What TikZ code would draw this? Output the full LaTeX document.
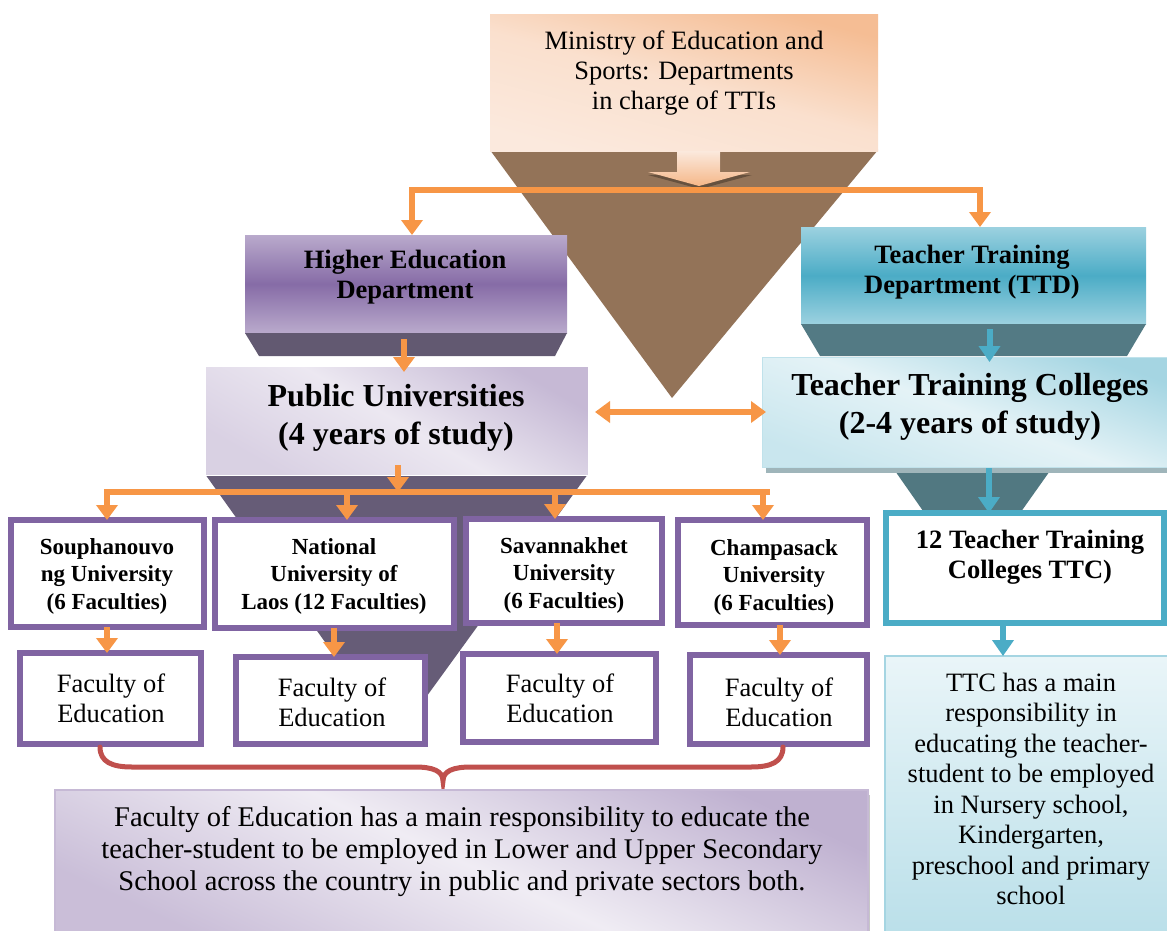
\documentclass[tikz,border=0pt]{standalone}
\usepackage{fontspec}
\setmainfont{Liberation Serif}
\usetikzlibrary{arrows.meta,calc}

\definecolor{orangeA}{HTML}{F79646}
\definecolor{peachT}{HTML}{F5BD94}
\definecolor{peachM}{HTML}{FAE0CE}
\definecolor{peachB}{HTML}{FBE9DD}
\definecolor{brownA}{HTML}{937358}
\definecolor{purpA}{HTML}{8064A2}
\definecolor{purpD}{HTML}{665C77}
\definecolor{purpBev}{HTML}{625971}
\definecolor{cyanA}{HTML}{4BACC6}
\definecolor{tealD}{HTML}{517881}
\definecolor{tealBev}{HTML}{537A84}
\definecolor{redA}{HTML}{C0504D}

\tikzset{
  txt/.style={font=\fontsize{26.5}{30}\selectfont, align=center, text=black, inner sep=0pt},
  btxt/.style={font=\fontsize{26.5}{30}\selectfont\bfseries, align=center, text=black, inner sep=0pt},
  bigtxt/.style={font=\fontsize{32}{38}\selectfont\bfseries, align=center, text=black, inner sep=0pt},
  unitxt/.style={font=\fontsize{23}{27.5}\selectfont\bfseries, align=center, text=black, inner sep=0pt},
  plainbox/.style={rectangle, inner sep=0pt, outer sep=0pt},
  ubox/.style={plainbox, draw=purpA, line width=6pt, fill=white},
  tbox/.style={plainbox, draw=cyanA, line width=6pt, fill=white},
  oline/.style={draw=orangeA, line width=6pt},
  oarrow/.style={draw=orangeA, line width=6pt, -{Triangle[width=21pt,length=15pt]}},
  odouble/.style={draw=orangeA, line width=6pt, {Triangle[width=21pt,length=15pt]}-{Triangle[width=21pt,length=15pt]}},
  barrow/.style={draw=cyanA, line width=6pt, -{Triangle[width=21pt,length=16pt]}},
}

\begin{document}
\begin{tikzpicture}[x=1pt,y=-1pt]
\useasboundingbox (0,0) rectangle (1167,931);
\fill[white] (0,0) rectangle (1167,931);

% funnels standing behind the boxes
\fill[brownA] (490,150) -- (878,150) -- (672,398) -- cycle;
\fill[purpD] (205,474) -- (588,474) -- (395,740) -- cycle;
\fill[tealD] (893,468) -- (1052,468) -- (972,581) -- cycle;

% ministry
\node[plainbox, minimum width=388pt, minimum height=137pt,
      top color=peachT, bottom color=peachB, middle color=peachM,
      shading angle=-15] (min) at (684,83.5) {};
\node[txt] (mint) at (684,73) {Ministry of Education and\\Sports: Departments\\in charge of TTIs};

% small block arrow under the ministry
\fill[brownA!70!black] (677,154) -- (720,154) -- (720,175) -- (752,175) -- (700,189) -- (648,175) -- (677,175) -- cycle;
\shade[top color=peachB, bottom color=peachT!85!orangeA]
  (677,151) -- (720,151) -- (720,172) -- (750,172) -- (699,186) -- (648,172) -- (677,172) -- cycle;

% departments
\node[plainbox, minimum width=322pt, minimum height=98pt,
      top color=purpA!55!white, bottom color=purpA!55!white, middle color=purpA!95!white] (hed) at (406,284) {};
\fill[purpBev] (hed.south west) -- (hed.south east) -- ++(-12,23) -- ($(hed.south west)+(14,23)$) -- cycle;
\node[btxt] (hedt) at (405,277) {Higher Education\\Department};

\node[plainbox, minimum width=345pt, minimum height=97pt,
      top color=cyanA!55!white, bottom color=cyanA!55!white, middle color=cyanA] (ttd) at (973.5,275.5) {};
\fill[tealBev] (ttd.south west) -- (ttd.south east) -- ++(-19,32) -- ($(ttd.south west)+(19,32)$) -- cycle;
\node[btxt] (ttdt) at (972,272) {Teacher Training\\Department (TTD)};

% connector from the ministry to the departments
\coordinate (mL) at (412,190);
\coordinate (mR) at (980,190);
\draw[oline] ([xshift=-3pt]mL) -- ([xshift=3pt]mR);
\draw[oarrow] (mL) -- (mL |- hed.north);
\draw[oarrow] (mR) -- (mR |- ttd.north);

% public universities and teacher training colleges
\node[plainbox, minimum width=383pt, minimum height=109pt, draw=white, line width=1pt,
      top color=purpA!45!white, bottom color=purpA!30!white, middle color=purpA!15!white,
      shading angle=-30] (pu) at (396.5,420.5) {};
\node[bigtxt] (put) at (396,418) {Public Universities\\(4 years of study)};

\fill[tealD!55!white] (766,466) rectangle (1167,473);
\node[plainbox, minimum width=410pt, minimum height=110pt, draw=cyanA!35!white, line width=1pt,
      top color=cyanA!50!white, bottom color=cyanA!30!white, middle color=cyanA!15!white,
      shading angle=-20] (ttc) at (967,412) {};
\node[bigtxt] (ttct) at (970,407) {Teacher Training Colleges\\(2-4 years of study)};

\draw[oarrow] ([xshift=-2pt,yshift=-6pt]hed.south) -- ([xshift=-2pt,yshift=-6pt]hed.south |- pu.north);
\draw[barrow] ([xshift=16pt,yshift=-5pt]ttd.south) -- ([xshift=16pt,yshift=-5pt]ttd.south |- ttc.north);
\draw[odouble] ([xshift=7pt]pu.east |- ttc.west) -- ([xshift=4pt]ttc.west);

% universities
\node[ubox, minimum width=193pt, minimum height=107pt] (u1) at (107.5,573.5) {};
\node[ubox, minimum width=239pt, minimum height=108pt] (u2) at (334.5,574) {};
\node[ubox, minimum width=196pt, minimum height=104pt] (u3) at (564,571) {};
\node[ubox, minimum width=189pt, minimum height=105pt] (u4) at (772.5,572.5) {};
\node[unitxt] (u1t) at (107,576) {Souphanouvo\\ng University\\(6 Faculties)};
\node[unitxt] (u2t) at (334,576) {National\\University of\\Laos (12 Faculties)};
\node[unitxt] (u3t) at (564,575) {Savannakhet\\University\\(6 Faculties)};
\node[unitxt] (u4t) at (774,577) {Champasack\\University\\(6 Faculties)};

% faculties of education
\node[ubox, minimum width=181pt, minimum height=91pt] (f1) at (110.5,698.5) {};
\node[ubox, minimum width=189pt, minimum height=87pt] (f2) at (330.5,700.5) {};
\node[ubox, minimum width=193pt, minimum height=88pt] (f3) at (559.5,698) {};
\node[ubox, minimum width=177pt, minimum height=89pt] (f4) at (778.5,699.5) {};
\node[txt] (f1t) at (111,698) {Faculty of\\Education};
\node[txt] (f2t) at (332,702) {Faculty of\\Education};
\node[txt] (f3t) at (560,698) {Faculty of\\Education};
\node[txt] (f4t) at (779,702) {Faculty of\\Education};

% branching from the public universities
\coordinate (busL) at (107,492);
\coordinate (busM) at (398,492);
\coordinate (busR) at (767,492);
\draw[oline] ([xshift=-3pt]busL) -- ([xshift=3pt]busR);
\draw[oarrow] ([yshift=10pt]pu.south -| busM) -- (busM);
\draw[oarrow] (busL) -- (busL |- u1.north);
\draw[oarrow] (347,492) -- (347,0 |- u2.north);
\draw[oarrow] (555,492) -- (555,0 |- u3.north);
\draw[oarrow] (763,492) -- (763,0 |- u4.north);

\draw[oarrow] (107,0 |- u1.south) -- (107,0 |- f1.north);
\draw[oarrow] (334,0 |- u2.south) -- (334,0 |- f2.north);
\draw[oarrow] (557,0 |- u3.south) -- (557,0 |- f3.north);
\draw[oarrow] (780,0 |- u4.south) -- (780,0 |- f4.north);

% brace gathering the faculties
\draw[redA, line width=5pt, line cap=round]
  (100,747) .. controls (100,762) and (112,767) .. (132,767) -- (415,767)
  .. controls (433,767) and (443,771) .. (443,781)
  .. controls (443,771) and (453,767) .. (471,767) -- (751,767)
  .. controls (771,767) and (783,762) .. (783,747);

% responsibility of the faculties
\fill[gray!45] (860,795) rectangle (870,931);
\node[plainbox, minimum width=813pt, minimum height=143pt, draw=purpA!45!white, line width=1.5pt,
      top color=purpA!50!white, bottom color=purpA!42!white, middle color=purpA!12!white,
      shading angle=-25] (fdesc) at (461.5,861.5) {};
\node[txt, font=\fontsize{28.5}{32}\selectfont] (fdesct) at (462,852)
  {Faculty of Education has a main responsibility to educate the\\teacher-student to be employed in Lower and Upper Secondary\\School across the country in public and private sectors both.};

% teacher training colleges branch
\node[tbox, minimum width=278pt, minimum height=110pt] (t12) at (1025,568) {};
\node[btxt] (t12t) at (1030,557) {12 Teacher Training\\Colleges TTC)};
\draw[barrow] ([yshift=-1pt]989,0 |- ttc.south) -- (989,0 |- t12.north);

\node[plainbox, minimum width=283pt, minimum height=277pt, draw=cyanA!50!white, line width=2pt,
      top color=cyanA!12!white, bottom color=cyanA!38!white] (tdesc) at (1026.5,794.5) {};
\node[txt, font=\fontsize{26.5}{30.5}\selectfont] (tdesct) at (1031,789)
  {TTC has a main\\responsibility in\\educating the teacher-\\student to be employed\\in Nursery school,\\Kindergarten,\\preschool and primary\\school};
\draw[barrow] (1003,0 |- t12.south) -- (1003,0 |- tdesc.north);

\end{tikzpicture}
\end{document}
